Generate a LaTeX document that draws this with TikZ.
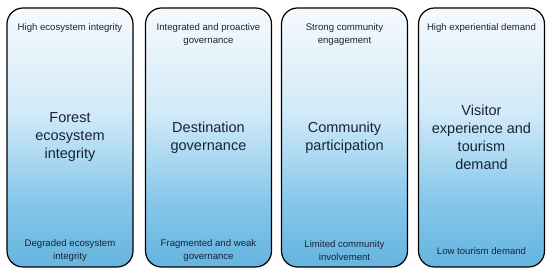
\documentclass[tikz,border=0pt]{standalone}
\usepackage{fontspec}
\setmainfont{Liberation Sans}
\usetikzlibrary{positioning}

\definecolor{pillarlow}{RGB}{98,178,222}
\definecolor{pillarmid}{RGB}{135,200,235}
\definecolor{pillarpale}{RGB}{210,234,248}
\definecolor{pillartop}{RGB}{246,250,254}
\definecolor{inktext}{RGB}{24,36,52}
\pgfdeclareverticalshading{pillarfade}{100bp}{%
  color(0bp)=(pillarlow); color(24bp)=(pillarlow); color(38bp)=(pillarmid);
  color(55bp)=(pillarpale); color(75bp)=(pillartop); color(100bp)=(pillartop)}

\begin{document}
\begin{tikzpicture}[
    x=1pt, y=1pt,
    pillar/.style={draw=black, line width=1.2pt, rounded corners=16pt, shading=pillarfade,
        minimum width=126pt, minimum height=259pt, inner sep=0pt},
    headtext/.style={align=center, text=inktext, font=\fontsize{14.5}{18}\selectfont, inner sep=0pt},
    sidetext/.style={align=center, text=inktext, font=\fontsize{9.6}{12.6}\selectfont, inner sep=0pt}
]
\useasboundingbox (0,0) rectangle (550,273);

\node[pillar] (forest) at (70,135.5) {};
\node[pillar] (govern) at (208.5,135.5) {};
\node[pillar] (commun) at (344.5,135.5) {};
\node[pillar] (visitor) at (481.5,135.5) {};

% central themes
\node[headtext] (foresttitle) at (forest.center) {Forest\\ecosystem\\integrity};
\node[headtext] (governtitle) at (govern.center) {Destination\\governance};
\node[headtext] (communtitle) at (commun.center) {Community\\participation};
\node[headtext] (visitortitle) at (visitor.center) {Visitor\\experience and\\tourism\\demand};

% high ends
\node[sidetext, below=16pt of forest.north] (foresthigh) {High ecosystem integrity};
\node[sidetext, below=16pt of govern.north] (governhigh) {Integrated and proactive\\governance};
\node[sidetext, below=16pt of commun.north] (communhigh) {Strong community\\engagement};
\node[sidetext, below=16pt of visitor.north] (visitorhigh) {High experiential demand};

% low ends
\node[sidetext] (forestlow) at ([yshift=17pt]forest.south) {Degraded ecosystem\\integrity};
\node[sidetext] (governlow) at ([yshift=17pt]govern.south) {Fragmented and weak\\governance};
\node[sidetext] (communlow) at ([yshift=17pt]commun.south) {Limited community\\involvement};
\node[sidetext] (visitorlow) at ([yshift=17pt]visitor.south) {Low tourism demand};
\end{tikzpicture}
\end{document}
